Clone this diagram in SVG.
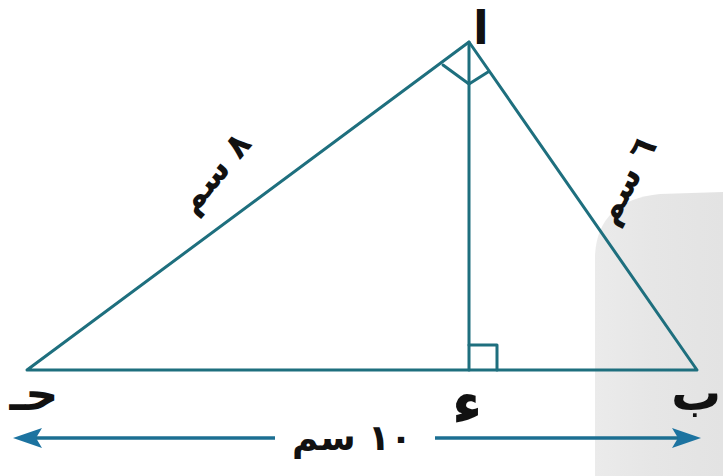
<svg xmlns="http://www.w3.org/2000/svg" width="723" height="476" viewBox="0 0 723 476">
<style>
.ln{stroke:#1e6f7e;stroke-width:3;fill:none;stroke-linecap:round;stroke-linejoin:round}
.ar{stroke:#1c6f92;stroke-width:3.5;fill:none}
.t{font-family:"DejaVu Sans",sans-serif;font-weight:bold;fill:#111;text-anchor:middle}
</style>
<defs>
<linearGradient id="gg" x1="0" y1="0" x2="1" y2="0">
<stop offset="0" stop-color="#ebebeb"/>
<stop offset="0.45" stop-color="#e6e6e6"/>
<stop offset="1" stop-color="#e3e3e3"/>
</linearGradient>
</defs>
<rect width="723" height="476" fill="#ffffff"/>
<path d="M595,476 L595,255 Q598,200 660,194 L723,192 L723,476 Z" fill="url(#gg)"/>
<g id="connectors">
<path class="ln" d="M27,370 L469,42 L697,370 Z"/>
<line class="ln" x1="469" y1="42" x2="469" y2="370"/>
<polyline class="ln" points="443,65 469,84 488,72"/>
<polyline class="ln" points="469,345 497,345 497,370"/>
<line class="ar" x1="275" y1="438" x2="20" y2="438"/>
<line class="ar" x1="435" y1="438" x2="692" y2="438"/>
<path d="M13,438 L42,428 L36,438 L42,448 Z" fill="#1c73a0"/>
<path d="M701,438 L672,428 L678,438 L672,448 Z" fill="#1c73a0"/>
</g>
<g id="node-A"><text class="t" x="481" y="44" font-size="46">ا</text></g>
<g id="node-B"><text class="t" x="696" y="410" font-size="50">ب</text></g>
<g id="node-C"><text class="t" x="34" y="410" font-size="46">حـ</text></g>
<g id="node-D"><text class="t" x="467" y="424" font-size="60">ء</text></g>
<g id="label-AC"><text class="t" font-size="34" transform="translate(223,180) rotate(-50)">٨ سم</text></g>
<g id="label-AB"><text class="t" font-size="34" transform="translate(636,186) rotate(-62)">٦ سم</text></g>
<g id="label-BC"><text class="t" x="352" y="450" font-size="36">١٠ سم</text></g>
</svg>
